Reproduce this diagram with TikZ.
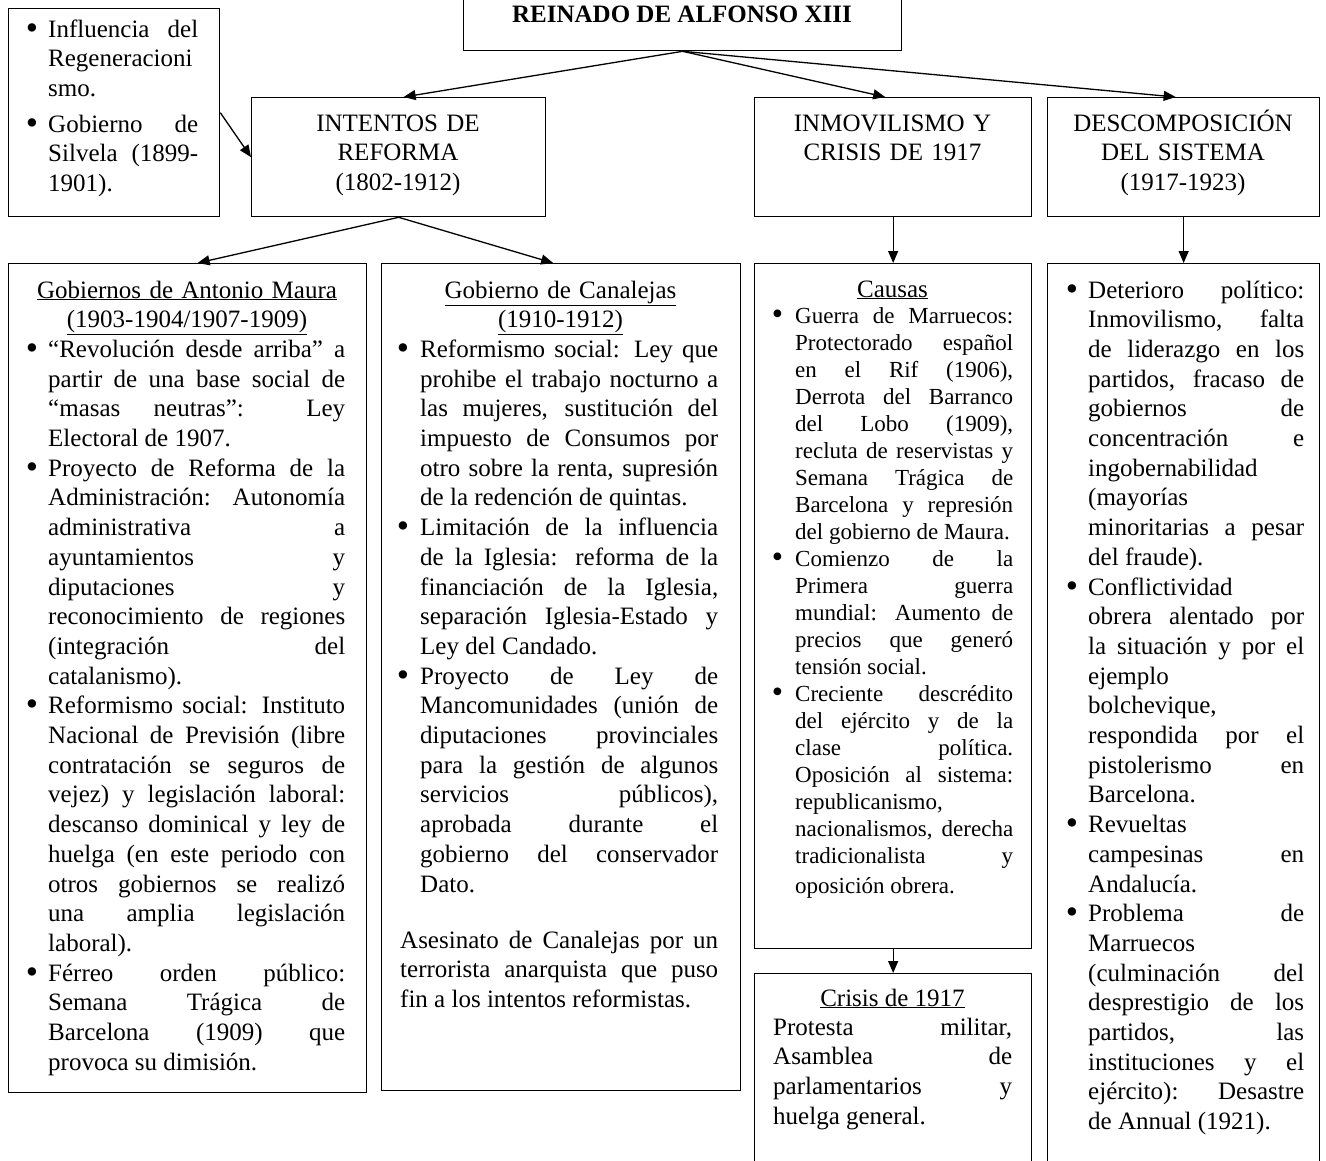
\documentclass[tikz,border=0pt]{standalone}
\usepackage{fontspec}
\setmainfont{Liberation Serif}
\usetikzlibrary{arrows.meta,calc}
\newcommand\mainsz{\fontsize{25}{29.7}\selectfont}
\newcommand\smsz{\fontsize{23}{27}\selectfont}
\newlength\bsep
\setlength\bsep{10pt}
\newcommand\bdot{\raisebox{-0.08em}{\scalebox{1.4}{\textbullet}}}
\newcommand\bfirst{\noindent\llap{\bdot\hspace{\bsep}}}
\newcommand\bu{\par\noindent\llap{\bdot\hspace{\bsep}}}
\tolerance=10000
\hyphenpenalty=10000
\hbadness=10000
\begin{document}
\begin{tikzpicture}[x=1pt,y=-1pt,
  box/.style={draw, line width=1.3pt, inner sep=0pt, anchor=north west},
  txt/.style={inner sep=0pt, anchor=base west, align=justify, font=\mainsz},
  stxt/.style={inner sep=0pt, anchor=base west, align=justify, font=\smsz},
  ctr/.style={inner sep=0pt, anchor=base, align=center, font=\mainsz},
  arr/.style={-{Triangle[length=12pt,width=10pt]}, line width=1.3pt}]
\useasboundingbox (0,0) rectangle (1326,1160);
% boxes
\node[box, minimum width=438pt, minimum height=70pt] (title) at (463,-20) {};
\node[box, minimum width=211pt, minimum height=208pt] (leftb) at (8,8) {};
\node[box, minimum width=294pt, minimum height=119pt] (intentos) at (251,97) {};
\node[box, minimum width=277pt, minimum height=119pt] (inmo) at (754,97) {};
\node[box, minimum width=272pt, minimum height=119pt] (desc) at (1047,97) {};
\node[box, minimum width=358pt, minimum height=829pt] (maura) at (8,263) {};
\node[box, minimum width=359pt, minimum height=827pt] (cana) at (381,263) {};
\node[box, minimum width=277pt, minimum height=685pt] (causas) at (754,263) {};
\node[box, minimum width=277pt, minimum height=207pt] (crisis) at (754,973) {};
\node[box, minimum width=272pt, minimum height=917pt] (right) at (1047,263) {};
% title text
\node[inner sep=0pt, anchor=base, font=\mainsz\bfseries] (titlet) at (682,22) {REINADO DE ALFONSO XIII};
% left small box
\node[txt, text width=150pt] (leftt) at (48,37) {%
\bfirst Influencia del\linebreak Regeneracioni\linebreak smo.\vspace{6pt}
\bu Gobierno de\linebreak Silvela (1899-\linebreak 1901).};
% header boxes text
\node[ctr, text width=280pt] (intt) at (398,131) {INTENTOS DE\\REFORMA\\(1802-1912)};
\node[ctr, text width=270pt] (inmot) at (892.5,131) {INMOVILISMO Y\\CRISIS DE 1917};
\node[ctr, text width=265pt] (desct) at (1183,131) {DESCOMPOSICIÓN\\DEL SISTEMA\\(1917-1923)};
% Maura
\node[ctr, text width=340pt] (maurah) at (187,298) {\underline{Gobiernos de Antonio Maura}\\\underline{(1903-1904/1907-1909)}};
\node[txt, text width=297pt] (maurat) at (48,357.4) {%
\bfirst “Revolución desde arriba” a\linebreak partir de una base social de\linebreak “masas neutras”: Ley\linebreak Electoral de 1907.
\bu Proyecto de Reforma de la\linebreak Administración: Autonomía\linebreak administrativa a\linebreak ayuntamientos y\linebreak diputaciones y\linebreak reconocimiento de regiones\linebreak (integración del\linebreak catalanismo).
\bu Reformismo social: Instituto\linebreak Nacional de Previsión (libre\linebreak contratación se seguros de\linebreak vejez) y legislación laboral:\linebreak descanso dominical y ley de\linebreak huelga (en este periodo con\linebreak otros gobiernos se realizó\linebreak una amplia legislación\linebreak laboral).
\bu Férreo orden público:\linebreak Semana Trágica de\linebreak Barcelona (1909) que\linebreak provoca su dimisión.};
% Canalejas
\node[ctr, text width=340pt] (canah) at (560.5,298) {\underline{Gobierno de Canalejas}\\\underline{(1910-1912)}};
\node[txt, text width=298pt] (canat) at (420,357.4) {%
\setlength\bsep{11pt}%
\bfirst Reformismo social: Ley que\linebreak prohibe el trabajo nocturno a\linebreak las mujeres, sustitución del\linebreak impuesto de Consumos por\linebreak otro sobre la renta, supresión\linebreak de la redención de quintas.
\bu Limitación de la influencia\linebreak de la Iglesia: reforma de la\linebreak financiación de la Iglesia,\linebreak separación Iglesia-Estado y\linebreak Ley del Candado.
\bu Proyecto de Ley de\linebreak Mancomunidades (unión de\linebreak diputaciones provinciales\linebreak para la gestión de algunos\linebreak servicios públicos),\linebreak aprobada durante el\linebreak gobierno del conservador\linebreak Dato.};
\node[txt, text width=318pt] (canab) at (400,948) {Asesinato de Canalejas por un\linebreak terrorista anarquista que puso\linebreak fin a los intentos reformistas.};
% Causas
\node[ctr] (causash) at (892.5,297) {\underline{Causas}};
\node[stxt, text width=218pt] (causast) at (795,323) {%
\setlength\bsep{12pt}%
\bfirst Guerra de Marruecos:\linebreak Protectorado español\linebreak en el Rif (1906),\linebreak Derrota del Barranco\linebreak del Lobo (1909),\linebreak recluta de reservistas y\linebreak Semana Trágica de\linebreak Barcelona y represión\linebreak del gobierno de Maura.
\bu Comienzo de la\linebreak Primera guerra\linebreak mundial: Aumento de\linebreak precios que generó\linebreak tensión social.
\bu Creciente descrédito\linebreak del ejército y de la\linebreak clase política.\linebreak Oposición al sistema:\linebreak republicanismo,\linebreak nacionalismos, derecha\linebreak tradicionalista y\vspace{3pt}\linebreak oposición obrera.};
% Crisis
\node[ctr] (crisish) at (892.5,1006) {\underline{Crisis de 1917}};
\node[txt, text width=239pt] (crisist) at (773,1035) {Protesta militar,\linebreak Asamblea de\linebreak parlamentarios y\linebreak huelga general.};
% right box
\node[txt, text width=216pt] (rightt) at (1088,298) {%
\bfirst Deterioro político:\linebreak Inmovilismo, falta\linebreak de liderazgo en los\linebreak partidos, fracaso de\linebreak gobiernos de\linebreak concentración e\linebreak ingobernabilidad\linebreak (mayorías\linebreak minoritarias a pesar\linebreak del fraude).
\bu Conflictividad\linebreak obrera alentado por\linebreak la situación y por el\linebreak ejemplo\linebreak bolchevique,\linebreak respondida por el\linebreak pistolerismo en\linebreak Barcelona.
\bu Revueltas\linebreak campesinas en\linebreak Andalucía.
\bu Problema de\linebreak Marruecos\linebreak (culminación del\linebreak desprestigio de los\linebreak partidos, las\linebreak instituciones y el\linebreak ejército): Desastre\linebreak de Annual (1921).};
% connectors
\draw[arr] (title.south) -- ([xshift=5pt]intentos.north);
\draw[arr] (title.south) -- ([xshift=-8pt]inmo.north);
\draw[arr] (title.south) -- ([xshift=-8pt]desc.north);
\draw[arr] (leftb.east) -- (intentos.west);
\draw[arr] (intentos.south) -- ([xshift=10pt]maura.north);
\draw[arr] (intentos.south) -- ([xshift=-8pt]cana.north);
\draw[arr] (inmo.south) -- (causas.north);
\draw[arr] (desc.south) -- (right.north);
\draw[arr] (causas.south) -- (crisis.north);
\end{tikzpicture}
\end{document}
